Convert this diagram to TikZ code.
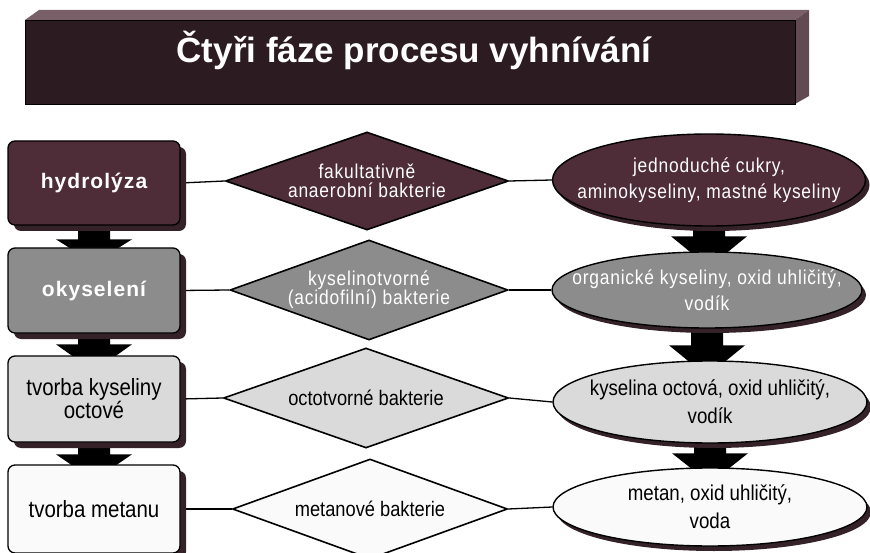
\documentclass[tikz,border=0pt]{standalone}
\usepackage{fontspec}
\setmainfont{Liberation Sans}
\newfontfamily\narrowfont[FakeStretch=0.87]{Liberation Sans}
\newfontfamily\narrowspaced[FakeStretch=0.87,LetterSpace=4]{Liberation Sans}
\newfontfamily\widebold[LetterSpace=5]{Liberation Sans}
\usetikzlibrary{shapes.geometric,shadows,calc}
\pgfdeclarelayer{back}
\pgfsetlayers{back,main}

\definecolor{maroon}{RGB}{78,44,56}
\definecolor{titlefront}{RGB}{44,27,33}
\definecolor{titletop}{RGB}{120,95,104}
\definecolor{titleside}{RGB}{98,74,83}
\definecolor{midgray}{RGB}{140,140,140}
\definecolor{palegray}{RGB}{218,218,218}
\definecolor{paper}{RGB}{250,250,250}
\definecolor{shade}{RGB}{52,34,40}

% thick downward arrow between two stacked nodes; #3 = head base above the next node
\newcommand\fatdown[3]{%
  \fill[black] let \p1=(#1.south), \p2=(#2.north) in
    (\x1-16pt,\y1) -- (\x1+16pt,\y1) -- (\x1+16pt,\y2+#3) -- (\x1+38pt,\y2+#3)
    -- (\x1,\y2-16pt) -- (\x1-38pt,\y2+#3) -- (\x1-16pt,\y2+#3) -- cycle;}

\tikzset{
  stepbox/.style={rectangle, rounded corners=7pt, draw=black, line width=1.3pt,
    minimum width=172pt, align=center, inner sep=2pt,
    general shadow={fill=shade, shadow xshift=6pt, shadow yshift=-6pt}},
  dia/.style={diamond, draw=black, line width=1.6pt, inner sep=0pt},
  ell/.style={ellipse, draw=black, line width=1.4pt, inner sep=0pt,
    general shadow={fill=shade, shadow xshift=4pt, shadow yshift=-5pt}},
  boxlight/.style={font=\narrowfont\fontsize{23.5}{23}\selectfont, text=black},
  boxdark/.style={font=\widebold\bfseries\fontsize{21}{23}\selectfont, text=white},
  dlight/.style={align=center, font=\narrowfont\fontsize{21}{20}\selectfont, text=black},
  ddark/.style={align=center, font=\narrowspaced\fontsize{20}{19}\selectfont, text=white},
  elight/.style={align=center, font=\narrowfont\fontsize{21.5}{28}\selectfont, text=black},
  edark/.style={align=center, font=\narrowspaced\fontsize{20}{26}\selectfont, text=white},
  link/.style={draw=black, line width=1.3pt},
}

\begin{document}
\begin{tikzpicture}[x=1pt,y=-1pt]
\useasboundingbox (0,0) rectangle (870,553);

% title bar drawn as an extruded slab
\fill[titletop] (25,20) -- (39,10) -- (809,10) -- (795,20) -- cycle;
\fill[titleside] (795,20) -- (809,10) -- (809,96) -- (795,104) -- cycle;
\node[rectangle, fill=titlefront, draw=black, line width=0.8pt,
      minimum width=770pt, minimum height=84pt] (bar) at (410,62) {};
\node[anchor=base, text=white, font=\bfseries\fontsize{35}{40}\selectfont]
      (title) at (414,63) {Čtyři fáze procesu vyhnívání};

% phases
\node[stepbox, fill=maroon, minimum height=84pt, boxdark] (b1) at (94,183) {hydrolýza};
\node[stepbox, fill=midgray, minimum height=85pt, boxdark] (b2) at (94,290.5) {okyselení};
\node[stepbox, fill=palegray, minimum height=86pt, boxlight] (b3) at (94,399) {tvorba kyseliny\\octové};
\node[stepbox, fill=paper, minimum height=88pt, boxlight] (b4) at (94,509) {tvorba metanu};

% bacteria
\node[dia, fill=maroon, minimum width=283pt, minimum height=98pt,
      label={[ddark]center:{fakultativně\\anaerobní bakterie}}] (d1) at (367,181) {};
\node[dia, fill=midgray, minimum width=278pt, minimum height=100pt,
      label={[ddark]center:{kyselinotvorné\\(acidofilní) bakterie}}] (d2) at (369,290) {};
\node[dia, fill=palegray, minimum width=285pt, minimum height=100pt,
      label={[dlight]center:{octotvorné bakterie}}] (d3) at (366,398) {};
\node[dia, fill=paper, minimum width=275pt, minimum height=100pt,
      label={[dlight]center:{metanové bakterie}}] (d4) at (370,509) {};

% products
\node[ell, fill=maroon, minimum width=313pt, minimum height=92pt,
      label={[edark]center:{jednoduché cukry,\\aminokyseliny, mastné kyseliny}}] (e1) at (709,180) {};
\node[ell, fill=midgray, minimum width=310pt, minimum height=76pt,
      label={[edark]center:{organické kyseliny, oxid uhličitý,\\vodík}}] (e2) at (707,290) {};
\node[ell, fill=palegray, minimum width=314pt, minimum height=82pt,
      label={[elight]center:{kyselina octová, oxid uhličitý,\\vodík}}] (e3) at (710,402) {};
\node[ell, fill=paper, minimum width=314pt, minimum height=78pt,
      label={[elight]center:{metan, oxid uhličitý,\\voda}}] (e4) at (710,507) {};

\begin{pgfonlayer}{back}
  \fatdown{b1}{b2}{8pt}
  \fatdown{b2}{b3}{11pt}
  \fatdown{b3}{b4}{10pt}
  \fatdown{e1}{e2}{15pt}
  \fatdown{e2}{e3}{15pt}
  \fatdown{e3}{e4}{14pt}
  \foreach \r in {1,2,3,4}{
    \draw[link] (b\r.east) -- (d\r.west);
    \draw[link] (d\r.east) -- (e\r.west);
  }
\end{pgfonlayer}
\end{tikzpicture}
\end{document}
